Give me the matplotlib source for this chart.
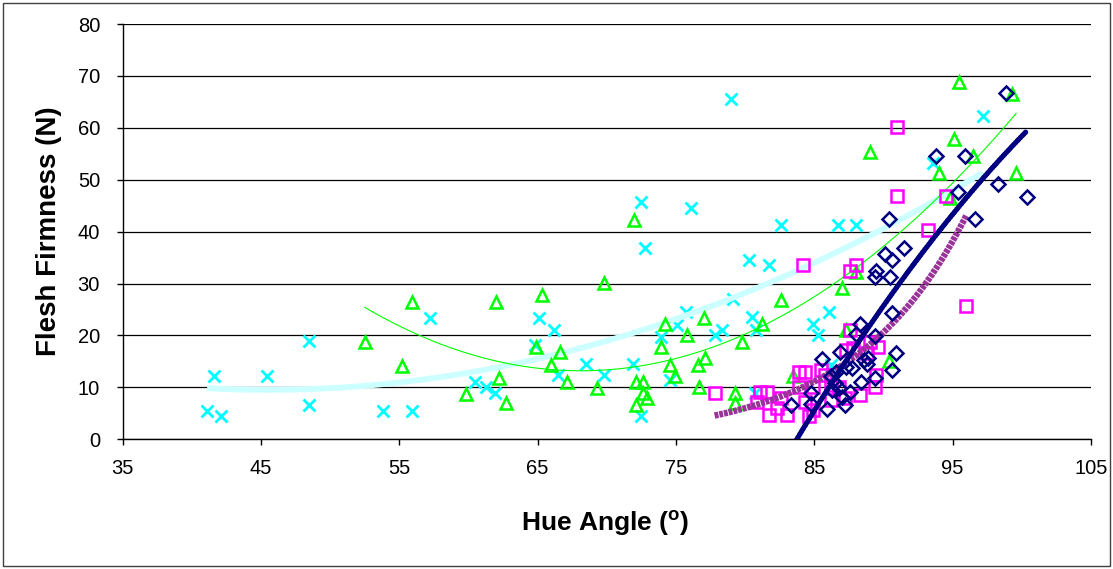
import numpy as np
import matplotlib
matplotlib.use('Agg')
import matplotlib.pyplot as plt
from matplotlib.patches import Rectangle

plt.rcParams['font.family'] = ['Liberation Sans', 'DejaVu Sans']
plt.rcParams['mathtext.fontset'] = 'custom'
plt.rcParams['mathtext.rm'] = 'Liberation Sans'
plt.rcParams['mathtext.bf'] = 'Liberation Sans:bold'

# series 1 - cyan crosses
hue_cyan = [41.1, 41.6, 42.1, 45.4, 48.5, 48.5, 53.8, 55.9, 57.2, 60.5, 61.3, 61.9,
            64.8, 65.1, 66.2, 66.5, 68.5, 69.8, 71.9, 72.5, 72.8, 72.5, 74.6, 73.9,
            75.1, 75.7, 76.1, 77.8, 78.3, 79.1, 79.0, 80.3, 81.7, 82.6, 80.5, 80.8,
            80.7, 86.7, 88.0, 84.9, 85.3, 86.1, 86.2, 93.6, 97.2]
firm_cyan = [5.5, 12.2, 4.5, 12.2, 18.9, 6.6, 5.5, 5.5, 23.3, 11.1, 10.1, 8.9,
             18.2, 23.3, 21.1, 12.4, 14.6, 12.4, 14.6, 45.7, 36.8, 4.4, 11.4, 19.8,
             22.0, 24.6, 44.5, 20.1, 21.1, 27.0, 65.6, 34.5, 33.5, 41.2, 23.6, 21.1,
             8.9, 41.2, 41.2, 22.2, 20.1, 24.5, 14.3, 53.2, 62.3]

# series 2 - green triangles
hue_green = [52.5, 55.2, 55.9, 59.8, 62.0, 62.2, 62.7, 64.9, 65.3, 66.0, 66.6, 67.1,
             69.3, 69.8, 72.0, 72.1, 72.6, 72.6, 72.1, 72.9, 73.9, 74.2, 74.6, 74.9,
             75.8, 76.6, 76.7, 77.0, 77.1, 79.3, 79.3, 79.8, 81.2, 82.6, 83.5, 87.0,
             87.3, 88.0, 89.0, 90.4, 94.0, 94.8, 95.1, 95.5, 96.5, 99.3, 99.6]
firm_green = [18.8, 14.2, 26.5, 8.7, 26.5, 11.9, 7.0, 17.8, 27.8, 14.3, 16.9, 11.1,
              9.9, 30.1, 42.3, 11.1, 11.1, 8.9, 6.6, 7.9, 17.7, 22.3, 14.3, 12.1,
              20.1, 14.3, 10.1, 23.3, 15.6, 8.9, 6.9, 18.8, 22.2, 26.8, 12.1, 29.1,
              21.1, 32.3, 55.4, 15.0, 51.3, 46.4, 57.8, 68.9, 54.5, 66.5, 51.3]

# series 3 - magenta squares
hue_mag = [77.8, 80.9, 81.1, 81.6, 81.7, 82.3, 82.6, 83.0, 83.9, 83.9, 84.3, 84.3,
           84.2, 84.6, 84.9, 84.9, 85.5, 85.8, 86.2, 86.2, 86.8, 87.2, 87.3, 87.6,
           87.6, 87.8, 88.0, 88.3, 88.8, 89.0, 89.4, 89.5, 89.6, 91.0, 91.0, 93.2,
           94.5, 96.0]
firm_mag = [9.0, 7.2, 9.2, 9.2, 4.7, 6.0, 7.9, 4.7, 10.1, 13.0, 13.0, 7.2,
            33.6, 4.4, 5.6, 10.1, 13.4, 12.4, 10.5, 7.6, 10.1, 7.9, 17.2, 21.1,
            32.5, 17.5, 33.5, 8.5, 16.6, 18.8, 10.1, 12.4, 17.8, 60.1, 46.8, 40.3,
            46.8, 25.7]

# series 4 - navy diamonds
hue_navy = [83.3, 84.8, 84.8, 85.6, 85.9, 86.2, 86.3, 86.5, 86.6, 86.8, 86.9, 87.0,
            87.2, 87.3, 87.6, 87.7, 88.0, 88.3, 88.4, 88.6, 88.8, 88.9, 89.4, 89.4,
            89.4, 89.5, 90.1, 90.4, 90.5, 90.6, 90.6, 90.6, 90.9, 91.5, 93.8, 95.4,
            95.9, 96.6, 98.3, 98.9, 100.4]
firm_navy = [6.6, 6.8, 9.0, 15.4, 5.8, 12.1, 9.5, 10.9, 13.0, 9.8, 16.8, 8.2,
             6.6, 14.0, 9.2, 13.7, 20.2, 22.2, 11.1, 15.3, 14.6, 15.6, 19.9, 11.8,
             31.2, 32.5, 35.7, 42.4, 31.2, 34.5, 24.3, 13.4, 16.7, 36.8, 54.6, 47.7,
             54.6, 42.4, 49.1, 66.8, 46.7]


def poly_trend(x, y, deg=2):
    c = np.polyfit(x, y, deg)
    xs = np.linspace(min(x), max(x), 200)
    return xs, np.polyval(c, xs)


def expo_trend(x, y):
    b, a = np.polyfit(x, np.log(y), 1)
    xs = np.linspace(min(x), max(x), 200)
    return xs, np.exp(a + b * xs)


fig = plt.figure(figsize=(11.13, 5.69), dpi=100)
ax = fig.add_axes([122.7 / 1113, 1 - 439.3 / 569, (1090.8 - 122.7) / 1113, (439.3 - 24) / 569])

# cyan
ax.plot(hue_cyan, firm_cyan, 'x', color='#00FFFF', ms=9, mew=2, zorder=3)
xs, ys = poly_trend(hue_cyan, firm_cyan)
ax.plot(xs, ys, color='#CCFFFF', lw=4.2, zorder=4, solid_capstyle='butt')

# green
ax.plot(hue_green, firm_green, '^', mfc='none', mec='#00FF00', ms=9, mew=1.8, zorder=5)
xs, ys = poly_trend(hue_green, firm_green)
ax.plot(xs, ys, color='#00FF00', lw=0.8, zorder=6)

# magenta
ax.plot(hue_mag, firm_mag, 's', mfc='none', mec='#FF00FF', ms=9, mew=1.8, zorder=7)
xs, ys = expo_trend(hue_mag, firm_mag)
ax.plot(xs, ys, color='#993399', lw=4.6, ls=(0, (0.6, 0.15)), zorder=8)

# navy
ax.plot(hue_navy, firm_navy, 'D', mfc='none', mec='#000080', ms=7, mew=1.8, zorder=9)
xs, ys = poly_trend(hue_navy, firm_navy)
ax.plot(xs, ys, color='#000080', lw=3.8, ls=(0, (0.2, 0.45)), dash_capstyle='round', zorder=10)

ax.set_xlim(35, 105)
ax.set_ylim(0, 80)
ax.set_xticks(range(35, 106, 10))
ax.set_yticks(range(0, 81, 10))
ax.yaxis.grid(True, color='black', lw=0.9)
ax.set_axisbelow(True)
for s in ['top', 'right']:
    ax.spines[s].set_visible(False)
for s in ['left', 'bottom']:
    ax.spines[s].set_color('black')
    ax.spines[s].set_linewidth(1)
ax.tick_params(axis='y', direction='out', length=4.3, width=1, labelsize=14.5, pad=12)
ax.tick_params(axis='x', direction='out', length=4.3, width=1, labelsize=14.5, pad=10)

fig.text(605 / 1113, 1 - 531 / 569, r'Hue Angle ($^{\mathbf{o}}$)', fontsize=19,
         fontweight='bold', ha='center', va='baseline')
fig.text(49 / 1113, 1 - 231 / 569, 'Flesh Firmness (N)', fontsize=20, fontweight='bold',
         rotation=90, ha='center', va='center')

# outer chart border
fig.patches.append(Rectangle((3 / 1113, 3 / 569), 1107 / 1113, 563 / 569, fill=False,
                             edgecolor='#404040', lw=1, transform=fig.transFigure))

fig.savefig('out.png', dpi=100)
